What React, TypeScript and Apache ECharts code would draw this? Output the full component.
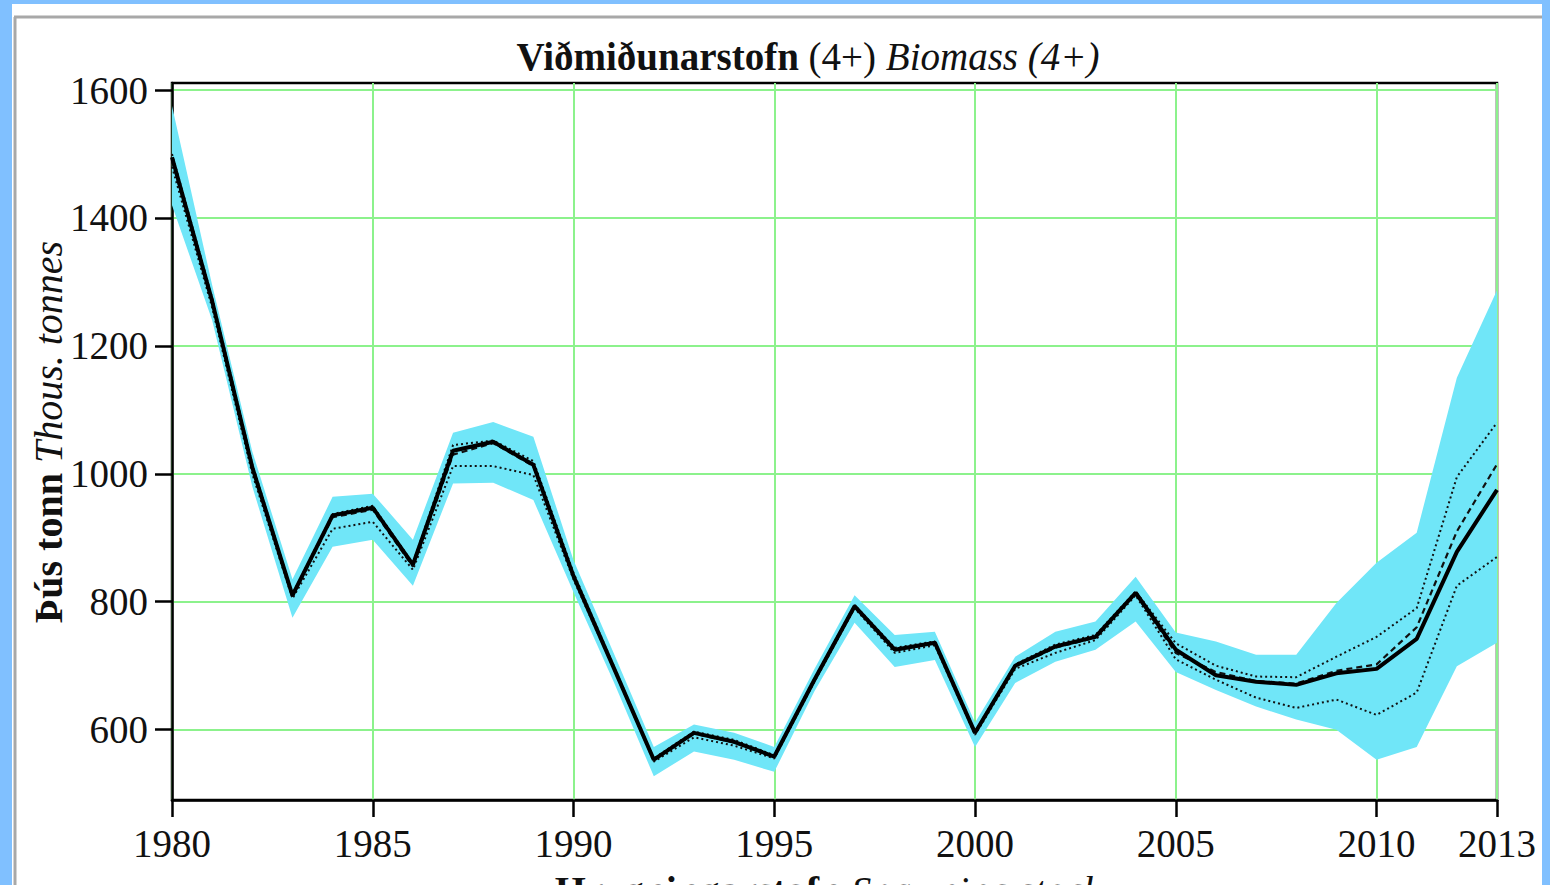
import React, { useEffect, useRef } from "react";
import * as echarts from "echarts";

const years = [
  "1980", "1981", "1982", "1983", "1984", "1985", "1986", "1987", "1988", "1989",
  "1990", "1991", "1992", "1993", "1994", "1995", "1996", "1997", "1998", "1999",
  "2000", "2001", "2002", "2003", "2004", "2005", "2006", "2007", "2008", "2009",
  "2010", "2011", "2012", "2013",
];

const xTickYears = [1980, 1985, 1990, 1995, 2000, 2005, 2010, 2013];
const yTicks = [600, 800, 1000, 1200, 1400, 1600];

const biomass = [1495, 1270, 1010, 810, 935, 947, 858, 1036, 1050, 1014, 840, 697, 553, 595, 581, 558, 678, 793, 725, 736, 595, 700, 730, 745, 814, 725, 685, 675, 670, 688, 695, 742, 878, 975];
const upperCI = [1575, 1295, 1035, 835, 964, 969, 897, 1064, 1081, 1058, 865, 720, 573, 608, 595, 573, 695, 810, 748, 753, 611, 714, 753, 769, 839, 752, 738, 717, 717, 798, 861, 908, 1150, 1287];
const lowerCI = [1420, 1240, 980, 775, 886, 897, 825, 985, 986, 959, 815, 675, 527, 566, 553, 534, 660, 767, 698, 709, 573, 673, 706, 725, 769, 690, 662, 636, 616, 600, 553, 573, 699, 736];
const runLow = [1480, 1260, 1000, 805, 914, 925, 850, 1012, 1012, 998, 835, 695, 550, 588, 575, 555, 675, 790, 720, 732, 592, 695, 720, 740, 810, 710, 678, 650, 634, 647, 623, 658, 825, 870];
const runHigh = [1500, 1275, 1015, 812, 937, 950, 860, 1045, 1052, 1020, 845, 700, 555, 597, 584, 560, 680, 795, 728, 738, 597, 702, 733, 748, 816, 735, 700, 683, 682, 714, 745, 790, 995, 1080];
const runMid = [1490, 1268, 1008, 808, 932, 944, 855, 1030, 1048, 1012, 840, 697, 553, 594, 580, 557, 677, 792, 724, 735, 594, 699, 728, 744, 812, 720, 690, 676, 672, 692, 702, 760, 910, 1015];

const SERIF = "'Liberation Serif', 'Times New Roman', serif";
const GRID_GREEN = "#8CF28C";
const BAND = "#70E6F8";
const FRAME_BLUE = "#80C0FF";

export default function App() {
  const ref = useRef<HTMLDivElement>(null);

  useEffect(() => {
    document.body.style.margin = "0";
    if (!ref.current) return;
    const chart = echarts.init(ref.current, null, { renderer: "svg" });
    const showTick = (_i: number, v: string) => xTickYears.includes(Number(v));
    const bandDiff = upperCI.map((u, i) => u - lowerCI[i]);

    chart.setOption({
      animation: false,
      backgroundColor: "#ffffff",
      grid: {
        left: 172,
        right: 53,
        top: 83,
        bottom: 85,
        show: true,
        borderColor: "#000",
        borderWidth: 2.5,
        backgroundColor: "transparent",
      },
      xAxis: {
        type: "category",
        data: years,
        boundaryGap: false,
        axisLine: { lineStyle: { color: "#000", width: 2.5 } },
        axisTick: { show: true, interval: showTick, length: 17, lineStyle: { color: "#000", width: 2.5 } },
        axisLabel: {
          interval: showTick,
          fontFamily: SERIF,
          fontSize: 39,
          color: "#111",
          margin: 24,
        },
        splitLine: { show: true, interval: showTick, lineStyle: { color: GRID_GREEN, width: 2 } },
      },
      yAxis: {
        type: "value",
        min: 490,
        max: 1611,
        axisLine: { show: true, lineStyle: { color: "#000", width: 2.5 } },
        axisTick: { show: true, customValues: yTicks, length: 17, lineStyle: { color: "#000", width: 2.5 } },
        axisLabel: {
          customValues: yTicks,
          formatter: (v: number) => String(v),
          fontFamily: SERIF,
          fontSize: 39,
          color: "#111",
          margin: 24,
        },
        splitLine: { show: true, lineStyle: { color: GRID_GREEN, width: 2 } },
      },
      series: [
        {
          type: "line",
          name: "lower",
          data: lowerCI,
          stack: "band",
          symbol: "none",
          silent: true,
          lineStyle: { opacity: 0 },
          z: 2,
        },
        {
          type: "line",
          name: "band",
          data: bandDiff,
          stack: "band",
          symbol: "none",
          silent: true,
          lineStyle: { opacity: 0 },
          areaStyle: { color: BAND, opacity: 1 },
          z: 2,
        },
        {
          type: "line",
          name: "runLow",
          data: runLow,
          symbol: "none",
          lineStyle: { color: "#111", width: 2, type: [2, 3] },
          z: 3,
        },
        {
          type: "line",
          name: "runHigh",
          data: runHigh,
          symbol: "none",
          lineStyle: { color: "#111", width: 2, type: [2, 3] },
          z: 3,
        },
        {
          type: "line",
          name: "runMid",
          data: runMid,
          symbol: "none",
          lineStyle: { color: "#111", width: 2.2, type: [6, 4] },
          z: 3,
        },
        {
          type: "line",
          name: "biomass",
          data: biomass,
          symbol: "none",
          lineStyle: { color: "#000", width: 4 },
          z: 4,
        },
      ],
      graphic: [
        { type: "rect", shape: { x: 0, y: 0, width: 12, height: 885 }, style: { fill: FRAME_BLUE }, z: 100 },
        { type: "rect", shape: { x: 0, y: 0, width: 1550, height: 4 }, style: { fill: FRAME_BLUE }, z: 100 },
        { type: "rect", shape: { x: 1542, y: 0, width: 8, height: 885 }, style: { fill: FRAME_BLUE }, z: 100 },
        { type: "line", shape: { x1: 14, y1: 17, x2: 1542, y2: 17 }, style: { stroke: "#A8A8A8", lineWidth: 3 }, z: 99 },
        { type: "line", shape: { x1: 15, y1: 17, x2: 15, y2: 885 }, style: { stroke: "#A8A8A8", lineWidth: 3 }, z: 99 },
        {
          type: "text",
          x: 808,
          y: 56,
          z: 100,
          style: {
            text: "{b|Viðmiðunarstofn }{r|(4+) }{i|Biomass (4+)}",
            align: "center",
            verticalAlign: "middle",
            rich: {
              b: { fontFamily: SERIF, fontSize: 39, fontWeight: "bold", fill: "#111" },
              r: { fontFamily: SERIF, fontSize: 39, fill: "#111" },
              i: { fontFamily: SERIF, fontSize: 39, fontStyle: "italic", fill: "#111" },
            },
          },
        },
        {
          type: "text",
          x: 48,
          y: 432,
          rotation: Math.PI / 2,
          z: 100,
          style: {
            text: "{b|Þús tonn }{i|Thous. tonnes}",
            align: "center",
            verticalAlign: "middle",
            rich: {
              b: { fontFamily: SERIF, fontSize: 40, fontWeight: "bold", fill: "#111" },
              i: { fontFamily: SERIF, fontSize: 40, fontStyle: "italic", fill: "#111" },
            },
          },
        },
        {
          type: "text",
          x: 828,
          y: 870,
          z: 100,
          style: {
            text: "{b|Hrygningarstofn }{i|Spawning stock}",
            align: "center",
            verticalAlign: "top",
            rich: {
              b: { fontFamily: SERIF, fontSize: 40, fontWeight: "bold", fill: "#111" },
              i: { fontFamily: SERIF, fontSize: 40, fontStyle: "italic", fill: "#111" },
            },
          },
        },
      ],
    });
    return () => chart.dispose();
  }, []);

  return <div ref={ref} style={{ width: 1550, height: 885 }} />;
}
